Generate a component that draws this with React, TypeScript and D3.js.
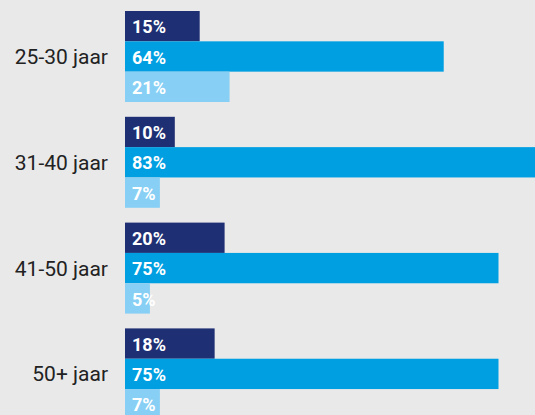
import React from "react";
import * as d3 from "d3";

const categories = ["25-30 jaar", "31-40 jaar", "41-50 jaar", "50+ jaar"];
const seriesKeys = ["s1", "s2", "s3"];
const series1 = [15, 10, 20, 18];
const series2 = [64, 83, 75, 75];
const series3 = [21, 7, 5, 7];
const seriesColors = ["#1e2f74", "#009fe2", "#87cff5"];

const W = 535;
const H = 415;

export default function App() {
  const values = [series1, series2, series3];
  const y0 = d3
    .scaleBand<string>()
    .domain(categories)
    .range([11, 11 + 4 * 105.8])
    .paddingInner(0.14)
    .paddingOuter(0.07)
    .align(0);
  const y1 = d3
    .scaleBand<string>()
    .domain(seriesKeys)
    .range([0, y0.bandwidth()])
    .padding(0);
  const x = d3.scaleLinear().domain([0, 100]).range([125, 125 + 498]);

  return (
    <svg
      width={W}
      height={H}
      style={{ position: "fixed", left: 0, top: 0, display: "block" }}
    >
      <rect x={0} y={0} width={W} height={H} fill="#e9e9e9" />
      {categories.map((cat, i) => {
        const gy = y0(cat)!;
        return (
          <g key={cat}>
            {seriesKeys.map((k, j) => {
              const v = values[j][i];
              const by = gy + y1(k)!;
              const bh = y1.bandwidth();
              return (
                <g key={k}>
                  <rect
                    x={x(0)}
                    y={by}
                    width={x(v) - x(0)}
                    height={bh}
                    fill={seriesColors[j]}
                  />
                  <text
                    x={x(0) + 7}
                    y={by + bh / 2}
                    dy="0.4em"
                    fill="#ffffff"
                    fontFamily="Roboto"
                    fontWeight={700}
                    fontSize={18}
                  >
                    {v + "%"}
                  </text>
                </g>
              );
            })}
            <text
              x={108}
              y={gy + y1("s2")! + y1.bandwidth() / 2}
              dy="0.36em"
              textAnchor="end"
              fill="#222222"
              fontFamily="Roboto"
              fontSize={21}
            >
              {cat}
            </text>
          </g>
        );
      })}
    </svg>
  );
}
